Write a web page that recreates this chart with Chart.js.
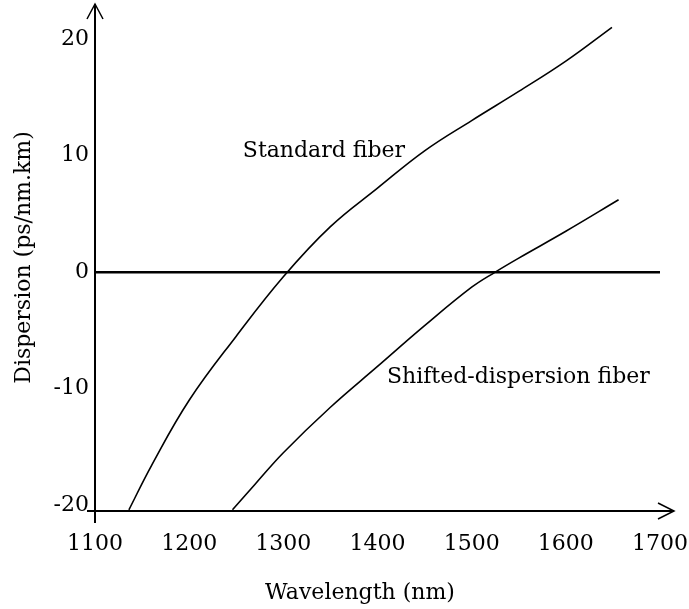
<!DOCTYPE html>
<html>
<head>
<meta charset="utf-8">
<script src="https://cdn.jsdelivr.net/npm/chart.js@4/dist/chart.umd.min.js"></script>
<style>
  html, body { margin: 0; padding: 0; background: #fff; }
  #wrap { width: 689px; height: 609px; }
</style>
</head>
<body>
<div id="wrap"><canvas id="dispersion-chart"></canvas></div>
<script>
// values
var stdWavelength = [1136, 1160, 1200, 1250, 1300, 1350, 1400, 1450, 1500, 1550, 1600, 1649];
var stdDispersion = [-20.4, -16.6, -11.0, -5.5, -0.4, 3.9, 7.2, 10.4, 13.0, 15.5, 18.1, 21.0];
var dsfWavelength = [1246, 1270, 1300, 1350, 1400, 1450, 1500, 1525, 1550, 1600, 1656];
var dsfDispersion = [-20.4, -18.2, -15.5, -11.6, -8.1, -4.6, -1.3, 0, 1.2, 3.5, 6.2];
var xTicks = [1100, 1200, 1300, 1400, 1500, 1600, 1700];
var yTicks = [-20, -10, 0, 10, 20];

var FONT = "'DejaVu Serif', serif";
var SIZE = 22;

function toPoints(xs, ys) {
  return xs.map(function (x, i) { return { x: x, y: ys[i] }; });
}

// no extra room for the end tick labels
function noPad(s) {
  s.paddingLeft = 0; s.paddingRight = 0; s.paddingTop = 0; s.paddingBottom = 0;
}

// axes with open arrow heads, plus the curve labels and x title
var drawing = {
  id: "drawing",
  afterDraw: function (chart) {
    var c = chart.ctx;
    var xs = chart.scales.x, ys = chart.scales.y;
    var x0 = xs.getPixelForValue(1100);
    var yb = chart.chartArea.bottom;
    var yt = chart.chartArea.top;
    var xr = xs.getPixelForValue(1700) + 14;
    c.save();
    c.strokeStyle = "#000";
    c.lineWidth = 2;
    c.beginPath();
    c.moveTo(x0, yb + 12);
    c.lineTo(x0, yt);
    c.moveTo(x0 - 8, yb);
    c.lineTo(xr, yb);
    c.stroke();
    c.lineWidth = 1.5;
    c.beginPath();
    c.moveTo(x0 - 8, yt + 15);
    c.lineTo(x0, yt);
    c.lineTo(x0 + 8, yt + 15);
    c.moveTo(xr - 16, yb - 8);
    c.lineTo(xr, yb);
    c.lineTo(xr - 16, yb + 8);
    c.stroke();

    c.fillStyle = "#000";
    c.font = SIZE + "px " + FONT;
    c.textAlign = "left";
    c.textBaseline = "alphabetic";
    c.fillText("Standard fiber", xs.getPixelForValue(1257), ys.getPixelForValue(9.9));
    c.fillText("Shifted-dispersion fiber", xs.getPixelForValue(1410), ys.getPixelForValue(-9.5));
    c.textAlign = "center";
    c.fillText("Wavelength (nm)", 360, 599);
    c.restore();
  }
};

var ctx = document.getElementById("dispersion-chart").getContext("2d");
new Chart(ctx, {
  type: "scatter",
  data: {
    datasets: [
      {
        label: "Standard fiber",
        data: toPoints(stdWavelength, stdDispersion),
        showLine: true,
        borderColor: "#000",
        borderWidth: 1.6,
        pointRadius: 0,
        tension: 0.4,
      },
      {
        label: "Shifted-dispersion fiber",
        data: toPoints(dsfWavelength, dsfDispersion),
        showLine: true,
        borderColor: "#000",
        borderWidth: 1.6,
        pointRadius: 0,
        tension: 0.4,
      },
    ],
  },
  options: {
    responsive: true,
    maintainAspectRatio: false,
    animation: false,
    layout: { padding: { top: 4, right: 29, left: 0, bottom: 0 } },
    plugins: {
      legend: { display: false },
      tooltip: { enabled: false },
    },
    scales: {
      x: {
        type: "linear",
        min: 1100,
        max: 1700,
        afterFit: function (s) { s.height = 98; noPad(s); },
        afterBuildTicks: function (s) { s.ticks = xTicks.map(function (v) { return { value: v }; }); },
        border: { display: false },
        grid: { display: false, drawTicks: false },
        ticks: {
          color: "#000", padding: 20, maxRotation: 0, font: { family: FONT, size: SIZE },
          callback: function (v) { return String(v); },
        },
      },
      y: {
        type: "linear",
        min: -20.5,
        max: 23,
        afterFit: function (s) { s.width = 95; noPad(s); },
        afterBuildTicks: function (s) { s.ticks = yTicks.map(function (v) { return { value: v }; }); },
        border: { display: false },
        grid: {
          drawTicks: false,
          color: function (c) { return c.tick && c.tick.value === 0 ? "#000" : "rgba(0,0,0,0)"; },
          lineWidth: function (c) { return c.tick && c.tick.value === 0 ? 2.5 : 0; },
        },
        ticks: { color: "#000", padding: 6, font: { family: FONT, size: SIZE } },
        title: {
          display: true,
          text: "Dispersion (ps/nm.km)",
          color: "#000",
          padding: { top: 11, bottom: 0 },
          font: { family: FONT, size: SIZE },
        },
      },
    },
  },
  plugins: [drawing],
});
</script>
</body>
</html>
